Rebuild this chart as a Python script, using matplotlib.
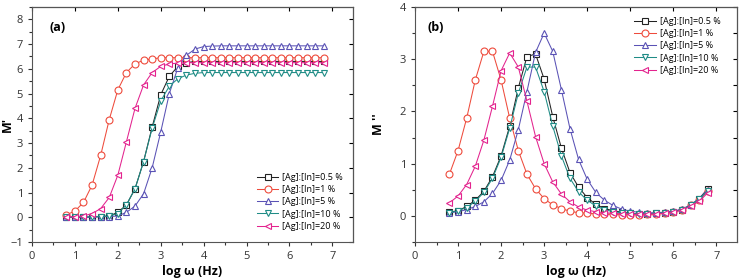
import numpy as np
import matplotlib
matplotlib.use("Agg")
import matplotlib.pyplot as plt
from matplotlib.ticker import MultipleLocator

plt.rcParams['font.family'] = ['Open Sans', 'DejaVu Sans']

x = [0.8, 1.0, 1.2, 1.4, 1.6, 1.8, 2.0, 2.2, 2.4, 2.6, 2.8, 3.0, 3.2, 3.4, 3.6, 3.8,
     4.0, 4.2, 4.4, 4.6, 4.8, 5.0, 5.2, 5.4, 5.6, 5.8, 6.0, 6.2, 6.4, 6.6, 6.8]

labels = ["[Ag]:[In]=0.5 %", "[Ag]:[In]=1 %", "[Ag]:[In]=5 %", "[Ag]:[In]=10 %", "[Ag]:[In]=20 %"]

# M' (panel a)
mp_05 = [0.0, 0.0, 0.0, 0.02, 0.03, 0.05, 0.2, 0.5, 1.15, 2.25, 3.65, 4.95, 5.7, 6.1, 6.25, 6.3,
         6.3, 6.3, 6.3, 6.3, 6.3, 6.3, 6.3, 6.3, 6.3, 6.3, 6.3, 6.3, 6.3, 6.3, 6.3]
mp_1 = [0.1, 0.25, 0.6, 1.3, 2.5, 3.95, 5.15, 5.85, 6.2, 6.35, 6.4, 6.45, 6.45, 6.45, 6.45, 6.45,
        6.45, 6.45, 6.45, 6.45, 6.45, 6.45, 6.45, 6.45, 6.45, 6.45, 6.45, 6.45, 6.45, 6.45, 6.45]
mp_5 = [0.0, 0.0, 0.0, 0.0, 0.02, 0.03, 0.05, 0.2, 0.45, 0.95, 2.0, 3.45, 5.0, 6.05, 6.55, 6.8,
        6.9, 6.92, 6.93, 6.93, 6.93, 6.93, 6.93, 6.93, 6.93, 6.93, 6.93, 6.93, 6.93, 6.93, 6.93]
mp_10 = [0.0, 0.0, 0.0, 0.02, 0.03, 0.05, 0.15, 0.5, 1.15, 2.25, 3.6, 4.7, 5.3, 5.6, 5.75, 5.82,
         5.85, 5.85, 5.85, 5.85, 5.85, 5.85, 5.85, 5.85, 5.85, 5.85, 5.85, 5.85, 5.85, 5.85, 5.85]
mp_20 = [0.02, 0.02, 0.05, 0.15, 0.35, 0.8, 1.7, 3.05, 4.4, 5.35, 5.85, 6.1, 6.2, 6.23, 6.25, 6.25,
         6.25, 6.25, 6.25, 6.25, 6.25, 6.25, 6.25, 6.25, 6.25, 6.25, 6.25, 6.25, 6.25, 6.25, 6.25]

# M'' (panel b)
mpp_05 = [0.07, 0.1, 0.18, 0.3, 0.47, 0.75, 1.15, 1.72, 2.45, 3.05, 3.1, 2.62, 1.9, 1.3, 0.83, 0.55,
          0.35, 0.22, 0.14, 0.1, 0.07, 0.05, 0.04, 0.04, 0.05, 0.06, 0.08, 0.12, 0.2, 0.33, 0.52]
mpp_1 = [0.8, 1.25, 1.87, 2.6, 3.15, 3.15, 2.6, 1.87, 1.25, 0.8, 0.52, 0.33, 0.21, 0.14, 0.09, 0.06,
         0.05, 0.04, 0.03, 0.03, 0.02, 0.02, 0.02, 0.03, 0.04, 0.06, 0.08, 0.12, 0.2, 0.3, 0.47]
mpp_5 = [0.06, 0.08, 0.12, 0.18, 0.27, 0.43, 0.68, 1.07, 1.65, 2.38, 3.13, 3.5, 3.15, 2.42, 1.67, 1.08,
         0.7, 0.45, 0.3, 0.2, 0.13, 0.09, 0.07, 0.06, 0.06, 0.07, 0.09, 0.13, 0.21, 0.33, 0.5]
mpp_10 = [0.06, 0.1, 0.16, 0.28, 0.45, 0.72, 1.12, 1.68, 2.35, 2.85, 2.85, 2.38, 1.72, 1.15, 0.72, 0.46,
          0.3, 0.19, 0.12, 0.08, 0.06, 0.05, 0.04, 0.04, 0.05, 0.06, 0.08, 0.12, 0.2, 0.32, 0.48]
mpp_20 = [0.25, 0.38, 0.6, 0.95, 1.45, 2.1, 2.78, 3.12, 2.85, 2.2, 1.52, 1.0, 0.65, 0.42, 0.27, 0.17,
          0.11, 0.08, 0.06, 0.05, 0.04, 0.03, 0.03, 0.03, 0.04, 0.05, 0.07, 0.11, 0.18, 0.28, 0.44]

colors = ['#222222', '#ee4b3c', '#5a52b5', '#1f8c86', '#e3238e']
markers = ['s', 'o', '^', 'v', '<']

fig = plt.figure(figsize=(7.4, 2.79), dpi=100)
axA = fig.add_axes([32/740, 37/279, 321/740, 235/279])
axB = fig.add_axes([415/740, 37/279, 322/740, 235/279])

def style(ax):
    ax.tick_params(axis='both', which='both', direction='out', labelsize=8, colors='#333333',
                   top=False, right=False, width=0.8)
    ax.tick_params(which='major', length=3)
    ax.tick_params(which='minor', length=2)
    sec = ax.secondary_xaxis('top')
    sec.tick_params(direction='in', labeltop=False, length=3)
    sec.set_xticks(np.arange(0, 8, 1))
    sec.set_xticklabels([])
    sec2 = ax.secondary_yaxis('right')
    sec2.tick_params(direction='in', labelright=False, length=3)
    for s in ax.spines.values():
        s.set_color('#555555')
        s.set_linewidth(0.8)
    ax.xaxis.set_major_locator(MultipleLocator(1))
    ax.xaxis.set_minor_locator(MultipleLocator(0.5))
    ax.set_xlim(0, 7.48)
    ax.set_xlabel('log ω (Hz)', fontsize=9, fontweight='bold', labelpad=2)
    return sec2

series_a = [mp_05, mp_1, mp_5, mp_10, mp_20]
series_b = [mpp_05, mpp_1, mpp_5, mpp_10, mpp_20]

for ax, series in ((axA, series_a), (axB, series_b)):
    for y, c, m, lab in zip(series, colors, markers, labels):
        ax.plot(x, y, color=c, marker=m, markersize=5, markerfacecolor='white',
                markeredgewidth=0.8, linewidth=0.75, label=lab)

secA = style(axA)
axA.set_ylim(-1, 8.5)
axA.yaxis.set_major_locator(MultipleLocator(1))
axA.yaxis.set_minor_locator(MultipleLocator(0.5))
secA.set_yticks(np.arange(-1, 9, 1))
secA.set_yticklabels([])
axA.set_ylabel("M'", fontsize=9, fontweight='bold')
axA.yaxis.set_label_coords(-0.058, 0.5)
axA.text(0.055, 0.94, '(a)', transform=axA.transAxes, fontsize=9, fontweight='bold', va='top')
axA.legend(loc='lower right', bbox_to_anchor=(0.985, 0.025), fontsize=6.5, frameon=False,
           handlelength=2.4, handletextpad=0.4, labelspacing=0.35, borderaxespad=0.2)

secB = style(axB)
axB.set_ylim(-0.5, 4)
axB.yaxis.set_major_locator(MultipleLocator(1))
axB.yaxis.set_minor_locator(MultipleLocator(0.5))
secB.set_yticks(np.arange(0, 4.5, 0.5))
secB.set_yticklabels([])
axB.set_ylabel("M ''", fontsize=9, fontweight='bold')
axB.yaxis.set_label_coords(-0.093, 0.5)
axB.text(0.04, 0.94, '(b)', transform=axB.transAxes, fontsize=9, fontweight='bold', va='top')
axB.legend(loc='upper right', bbox_to_anchor=(0.965, 0.98), fontsize=6.5, frameon=False,
           handlelength=2.4, handletextpad=0.4, labelspacing=0.35, borderaxespad=0.2)

fig.savefig('out.png', dpi=100)
